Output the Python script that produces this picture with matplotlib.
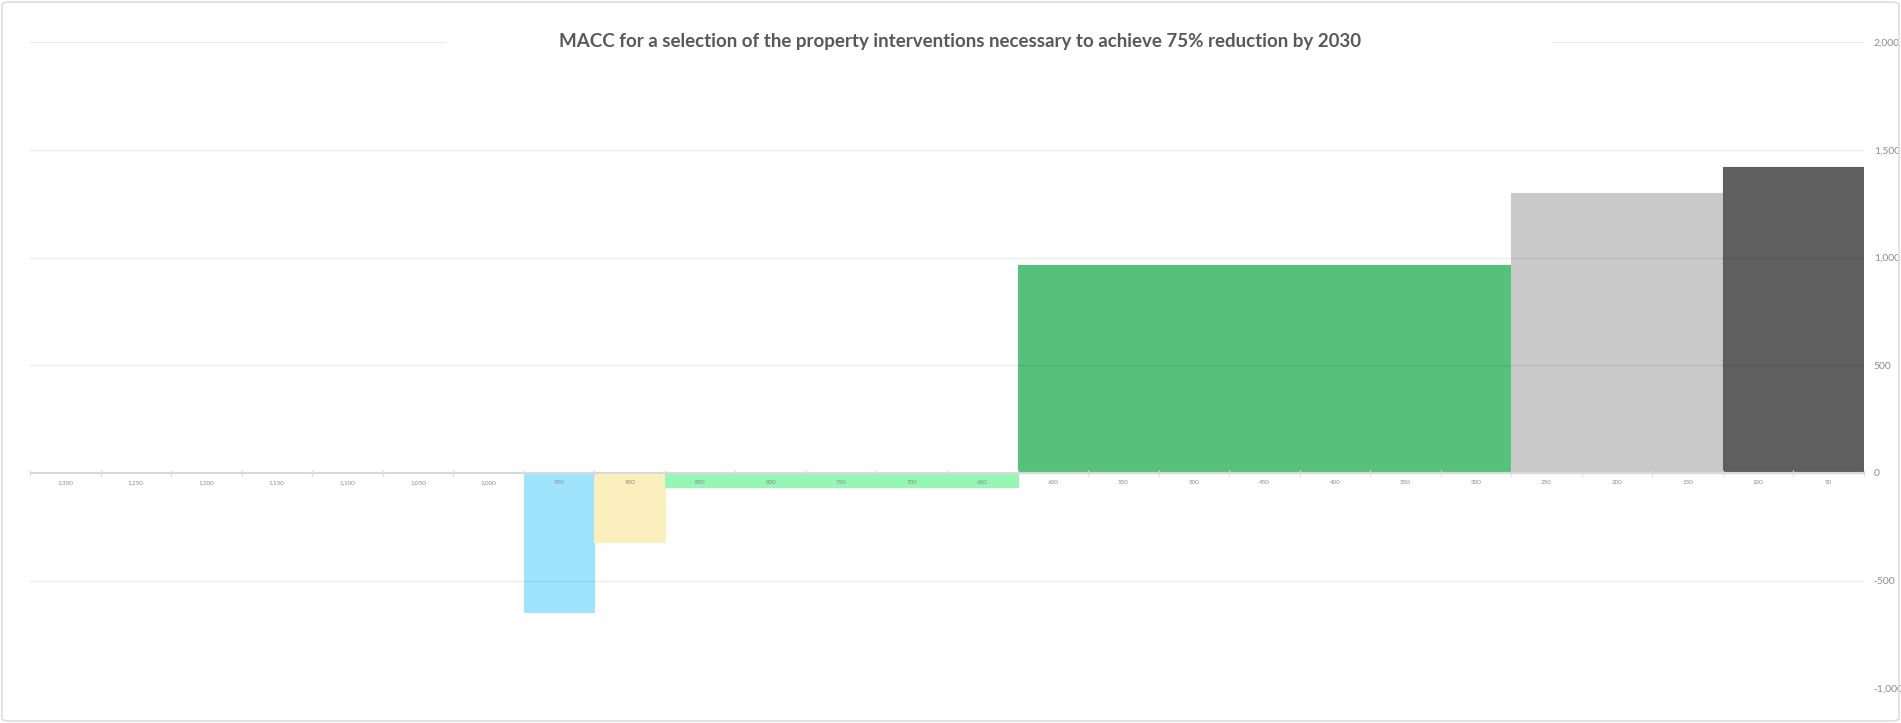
import matplotlib
matplotlib.use("Agg")
import matplotlib.pyplot as plt
from matplotlib.patches import FancyBboxPatch, Rectangle
from matplotlib.ticker import FuncFormatter

# MACC data: abatement blocks from the left (x axis runs high -> low)
start_x = 975
widths = [50, 50, 250, 350, 150, 100]
costs = [-645, -320, -67, 965, 1300, 1420]
colors = ["#9fe3fd", "#fbf0bd", "#95f6b5", "#56c17a", "#c9c9c9", "#5f5f5f"]

x_labels = list(range(1300, 0, -50))
y_ticks = [-1000, -500, 0, 500, 1000, 1500, 2000]
title = "MACC for a selection of the property interventions necessary to achieve 75% reduction by 2030"

fig = plt.figure(figsize=(19.01, 7.23), dpi=100)
ax = fig.add_axes([30 / 1901, 34.7 / 723, 1834 / 1901, 646 / 723])

# bars, each starts where the previous one ended
left = start_x
for w, c, col in zip(widths, costs, colors):
    ax.bar(left, c, width=-w, align="edge", color=col, edgecolor=col,
           linewidth=0.8, zorder=2)
    left -= w

ax.set_xlim(1325, 25)
ax.set_ylim(-1000, 2000)

# gridlines, faint, drawn over bars like the original
for y in y_ticks:
    if y != 0:
        ax.axhline(y, color="black", alpha=0.07, linewidth=1, zorder=3)
ax.axhline(0, color="#d9d9d9", linewidth=1.5, zorder=4)

ax.set_xticks(x_labels)
ax.set_xticks(range(1325, 24, -50), minor=True)
ax.xaxis.set_major_formatter(FuncFormatter(lambda v, p: f"{int(v):,}"))
ax.tick_params(axis="x", which="major", length=0, labelsize=4.5,
               labelcolor="#8c8c8c", pad=5)
ax.tick_params(axis="x", which="minor", length=4, direction="inout",
               color="#d9d9d9", width=0.8)
# put the x axis on the zero line, labels on top of the bars
ax.spines["bottom"].set_position(("data", 0))
ax.spines["bottom"].set_visible(False)
ax.xaxis.set_zorder(5)

ax.yaxis.tick_right()
ax.set_yticks(y_ticks)
ax.yaxis.set_major_formatter(FuncFormatter(lambda v, p: f"{int(v):,}"))
ax.tick_params(axis="y", length=0, labelsize=7.5, labelcolor="#8c8c8c", pad=7)

for s in ["top", "left", "right"]:
    ax.spines[s].set_visible(False)

for lbl in ax.get_xticklabels() + ax.get_yticklabels():
    lbl.set_fontfamily("Lato")

# white strip behind the title hides the top gridline
fig.patches.append(Rectangle((446 / 1901, 1 - 52 / 723), 1106 / 1901, 20 / 723,
                             transform=fig.transFigure, fc="white", ec="none",
                             zorder=5))
fig.text(960 / 1901, 1 - 42 / 723, title, ha="center", va="center",
         fontsize=13.5, fontweight="bold", color="#595959", family="Lato",
         zorder=6)

# thin rounded frame around the whole chart
frame = FancyBboxPatch((2 / 1901, 2 / 723), 1 - 4 / 1901, 1 - 4 / 723,
                       boxstyle="round,pad=0,rounding_size=0.004",
                       transform=fig.transFigure, fc="none", ec="#dedede",
                       lw=1.2)
fig.patches.append(frame)

fig.savefig("out.png", dpi=100)
